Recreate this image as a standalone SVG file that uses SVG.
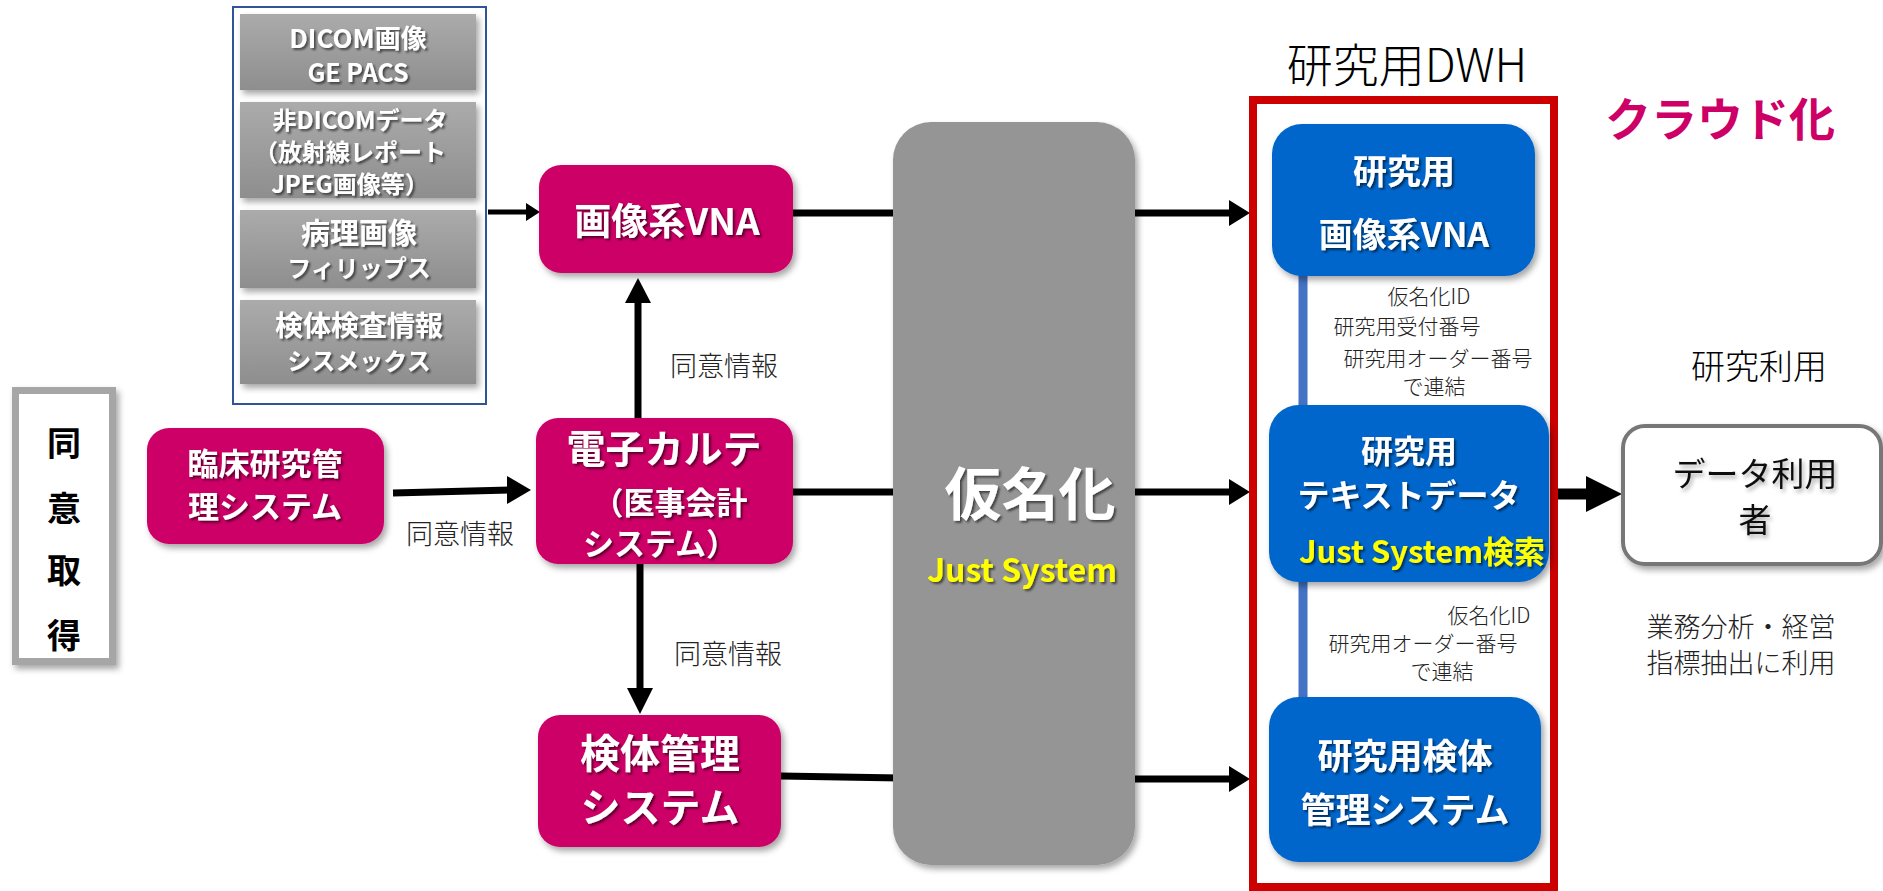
<svg xmlns="http://www.w3.org/2000/svg" width="1883" height="891" viewBox="0 0 1883 891">
<defs>
<filter id="sh" x="-10%" y="-10%" width="130%" height="130%">
<feDropShadow dx="3" dy="4" stdDeviation="3" flood-color="#000" flood-opacity="0.35"/>
</filter>
<filter id="tsh" x="-10%" y="-20%" width="130%" height="150%">
<feDropShadow dx="2" dy="2" stdDeviation="1" flood-color="#000" flood-opacity="0.55"/>
</filter>
<filter id="tshl" x="-10%" y="-20%" width="130%" height="150%">
<feDropShadow dx="2" dy="3" stdDeviation="2" flood-color="#000" flood-opacity="0.35"/>
</filter>
<linearGradient id="gg" x1="0" y1="0" x2="0" y2="1">
<stop offset="0" stop-color="#ababab"/>
<stop offset="1" stop-color="#8e8e8e"/>
</linearGradient>
</defs>
<style>
text{font-family:"Noto Sans CJK JP","Noto Sans",sans-serif;text-anchor:middle;dominant-baseline:central}
.w{fill:#fff;font-weight:700;filter:url(#tsh)}
.y{fill:#ffff00;font-weight:700;filter:url(#tsh)}
.lbl{fill:#222;font-weight:300}
.mag{fill:#cc0066}
.blu{fill:#0066cc}
.gi{fill:url(#gg);filter:url(#sh)}
.ln{stroke:#000;stroke-width:7;fill:none}
.hd{fill:#000}
.bl{stroke:#4472c4;stroke-width:9;fill:none}
</style>
<rect width="1883" height="891" fill="#fff"/>

<g id="connectors">
<line class="ln" x1="488" y1="212" x2="528" y2="212" style="stroke-width:5"/>
<polygon class="hd" points="526,203 540,212 526,221"/>
<line class="ln" x1="393" y1="493" x2="510" y2="490"/>
<polygon class="hd" points="507,476 531,490 507,504"/>
<line class="ln" x1="638" y1="418" x2="638" y2="300"/>
<polygon class="hd" points="625,303 638,278 651,303"/>
<line class="ln" x1="640" y1="564" x2="640" y2="690"/>
<polygon class="hd" points="627,688 640,714 653,688"/>
<line class="ln" x1="793" y1="213" x2="900" y2="213"/>
<line class="ln" x1="1130" y1="213" x2="1231" y2="213"/>
<polygon class="hd" points="1229,200 1250,213 1229,226"/>
<line class="ln" x1="793" y1="492" x2="900" y2="492"/>
<line class="ln" x1="1130" y1="492" x2="1231" y2="492"/>
<polygon class="hd" points="1229,479 1250,492 1229,505"/>
<line class="ln" x1="781" y1="776" x2="900" y2="778"/>
<line class="ln" x1="1130" y1="779" x2="1231" y2="779"/>
<polygon class="hd" points="1229,766 1250,779 1229,792"/>
<line class="ln" x1="1556" y1="494" x2="1590" y2="494" style="stroke-width:11"/>
<polygon class="hd" points="1586,476 1622,494 1586,512"/>
<line class="bl" x1="1303" y1="270" x2="1303" y2="410"/>
<line class="bl" x1="1303" y1="576" x2="1303" y2="702"/>
</g>

<g id="sources">
<rect x="233" y="7" width="253" height="397" fill="none" stroke="#2f5597" stroke-width="2"/>
<g id="src-dicom">
<rect class="gi" x="240" y="14" width="236" height="76"/>
<text class="w" x="358" y="36" font-size="26">DICOM画像</text>
<text class="w" x="358" y="71" font-size="25">GE PACS</text>
</g>
<g id="src-nondicom">
<rect class="gi" x="240" y="102" width="236" height="96"/>
<text class="w" x="360" y="118" font-size="24">非DICOMデータ</text>
<text class="w" x="350" y="150" font-size="24">（放射線レポート</text>
<text class="w" x="350" y="182" font-size="24">JPEG画像等）</text>
</g>
<g id="src-path">
<rect class="gi" x="240" y="210" width="236" height="78"/>
<text class="w" x="359" y="231" font-size="29">病理画像</text>
<text class="w" x="359" y="266" font-size="24">フィリップス</text>
</g>
<g id="src-lab">
<rect class="gi" x="240" y="300" width="236" height="84"/>
<text class="w" x="359" y="324" font-size="28">検体検査情報</text>
<text class="w" x="359" y="359" font-size="24">シスメックス</text>
</g>
</g>

<g id="consent">
<rect x="15.5" y="390.5" width="97" height="271" fill="#fff" stroke="#a6a6a6" stroke-width="7" filter="url(#sh)"/>
<text x="64" y="441" font-size="34" font-weight="700" fill="#000">同</text>
<text x="64" y="506" font-size="34" font-weight="700" fill="#000">意</text>
<text x="64" y="568" font-size="34" font-weight="700" fill="#000">取</text>
<text x="64" y="633" font-size="34" font-weight="700" fill="#000">得</text>
</g>

<g id="clinical">
<rect class="mag" x="147" y="428" width="237" height="116" rx="22" filter="url(#sh)"/>
<text class="w" x="265" y="461" font-size="31">臨床研究管</text>
<text class="w" x="265" y="504" font-size="31">理システム</text>
</g>

<g id="vna">
<rect class="mag" x="539" y="165" width="254" height="108" rx="22" filter="url(#sh)"/>
<text class="w" x="667" y="219" font-size="37">画像系VNA</text>
</g>

<g id="emr">
<rect class="mag" x="536" y="418" width="257" height="146" rx="22" filter="url(#sh)"/>
<text class="w" x="664" y="446" font-size="39">電子カルテ</text>
<text class="w" x="670" y="500" font-size="31">（医事会計</text>
<text class="w" x="660" y="541" font-size="31">システム）</text>
</g>

<g id="specimen">
<rect class="mag" x="538" y="715" width="243" height="132" rx="22" filter="url(#sh)"/>
<text class="w" x="660" y="751" font-size="40">検体管理</text>
<text class="w" x="660" y="805" font-size="40">システム</text>
</g>

<g id="labels">
<text class="lbl" x="460" y="532" font-size="27">同意情報</text>
<text class="lbl" x="724" y="364" font-size="27">同意情報</text>
<text class="lbl" x="728" y="652" font-size="27">同意情報</text>
</g>

<g id="pseudo">
<rect x="893" y="122" width="242" height="743" rx="38" fill="#959595" filter="url(#sh)"/>
<text class="w" x="1030" y="490" font-size="57">仮名化</text>
<text class="y" x="1022" y="568" font-size="32">Just System</text>
</g>

<g id="dwh">
<text x="1407" y="62" font-size="46" fill="#000" font-weight="300">研究用DWH</text>
<rect x="1253" y="100" width="301" height="787" fill="none" stroke="#cc0000" stroke-width="8"/>
<text x="1720" y="116" font-size="46" font-weight="700" fill="#cc0066">クラウド化</text>
</g>

<g id="r-vna">
<rect class="blu" x="1272" y="124" width="263" height="152" rx="30" filter="url(#sh)"/>
<text class="w" x="1404" y="169" font-size="34">研究用</text>
<text class="w" x="1404" y="232" font-size="34">画像系VNA</text>
</g>

<g id="r-text">
<rect class="blu" x="1269" y="405" width="280" height="177" rx="30" filter="url(#sh)"/>
<text class="w" x="1409" y="449" font-size="32">研究用</text>
<text class="w" x="1409" y="493" font-size="32">テキストデータ</text>
<text class="y" x="1422" y="549" font-size="31">Just System検索</text>
</g>

<g id="r-spec">
<rect class="blu" x="1269" y="697" width="272" height="165" rx="30" filter="url(#sh)"/>
<text class="w" x="1405" y="753" font-size="35">研究用検体</text>
<text class="w" x="1405" y="807" font-size="35">管理システム</text>
</g>

<g id="link-labels">
<text class="lbl" x="1429" y="295" font-size="21">仮名化ID</text>
<text class="lbl" x="1407" y="325" font-size="21">研究用受付番号</text>
<text class="lbl" x="1438" y="357" font-size="21">研究用オーダー番号</text>
<text class="lbl" x="1434" y="385" font-size="21">で連結</text>
<text class="lbl" x="1489" y="614" font-size="21">仮名化ID</text>
<text class="lbl" x="1423" y="642" font-size="21">研究用オーダー番号</text>
<text class="lbl" x="1442" y="670" font-size="21">で連結</text>
</g>

<g id="user">
<text x="1759" y="364" font-size="34" fill="#000" font-weight="300">研究利用</text>
<rect x="1623" y="426" width="258" height="138" rx="22" fill="#fff" stroke="#777" stroke-width="4" filter="url(#sh)"/>
<text x="1755" y="472" font-size="33" fill="#111" font-weight="400" filter="url(#tshl)">データ利用</text>
<text x="1755" y="518" font-size="33" fill="#111" font-weight="400" filter="url(#tshl)">者</text>
<text class="lbl" x="1741" y="625" font-size="27">業務分析・経営</text>
<text class="lbl" x="1741" y="661" font-size="27">指標抽出に利用</text>
</g>
</svg>
